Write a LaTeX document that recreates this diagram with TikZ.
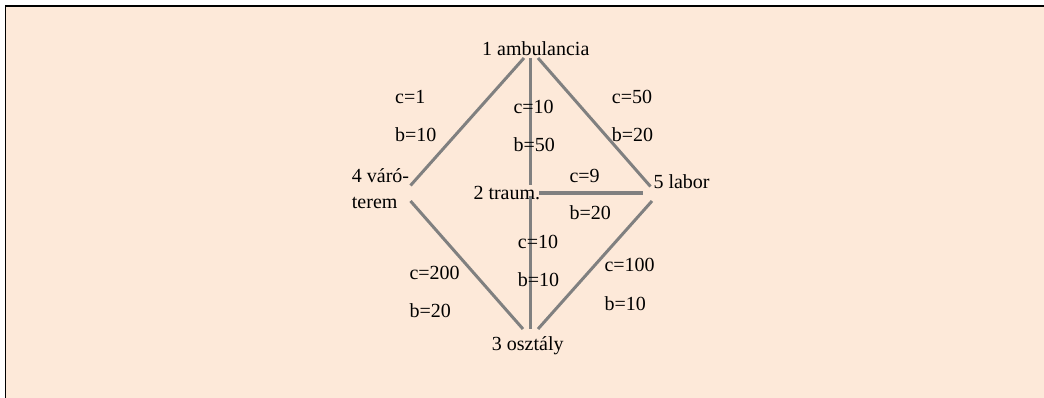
\documentclass[tikz,border=0pt]{standalone}
\usepackage{fontspec}
\setmainfont{Liberation Serif}
\definecolor{peach}{HTML}{FDE9D9}
\definecolor{edgegray}{HTML}{808080}
\begin{document}
\begin{tikzpicture}[x=1pt,y=-1pt,
  lbl/.style={anchor=base west,inner sep=0pt,font=\fontsize{20}{25}\selectfont},
  place/.style={anchor=base west,inner sep=0pt,font=\fontsize{20}{25}\selectfont,align=left},
  edge/.style={draw=edgegray,line width=3pt}]
\useasboundingbox (0,0) rectangle (1044,398);
\fill[white] (0,0) rectangle (1044,398);
\fill[peach] (5,5) rectangle (1044,398);
\draw[black,line width=2pt] (5,6) -- (1044,6);
\draw[black,line width=1.5pt] (5.5,5) -- (5.5,398);
% places
\node[place] (amb) at (482,56) {1 ambulancia};
\node[place] (var) at (351.7,208) {4 váró-\\terem};
\node[place] (tra) at (473.3,200) {2 traum.};
\node[place] (lab) at (653.3,189) {5 labor};
\node[place] (osz) at (491.7,350) {3 osztály};
% connector ends
\coordinate (amb-l) at (524,58);
\coordinate (amb-m) at (530,58);
\coordinate (amb-r) at (538,58);
\coordinate (var-t) at (410.5,185.5);
\coordinate (var-b) at (410.5,201);
\coordinate (tra-t) at (530,185);
\coordinate (tra-b) at (530,196);
\coordinate (tra-r) at (539,193);
\coordinate (lab-l) at (643,193);
\coordinate (lab-t) at (650.5,186.5);
\coordinate (lab-b) at (652,201);
\coordinate (osz-l) at (523,329);
\coordinate (osz-m) at (530,329);
\coordinate (osz-r) at (538,329);
% connectors
\draw[edge] (amb-l) -- (var-t);
\draw[edge] (amb-m) -- (tra-t);
\draw[edge] (amb-r) -- (lab-t);
\draw[edge,line width=3.5pt] (tra-r) -- (lab-l);
\draw[edge] (var-b) -- (osz-l);
\draw[edge] (tra-b) -- (osz-m);
\draw[edge] (lab-b) -- (osz-r);
% labels
\node[lbl] (c14) at (395,104) {c=1};
\node[lbl] (b14) at (395,141.7) {b=10};
\node[lbl] (c12) at (513.3,114) {c=10};
\node[lbl] (b12) at (513.3,151.7) {b=50};
\node[lbl] (c15) at (611.7,104) {c=50};
\node[lbl] (b15) at (611.7,141.7) {b=20};
\node[lbl] (c25) at (569.3,182.7) {c=9};
\node[lbl] (b25) at (569.3,219) {b=20};
\node[lbl] (c23) at (517.7,248) {c=10};
\node[lbl] (b23) at (517.7,286.7) {b=10};
\node[lbl] (c43) at (409.3,279) {c=200};
\node[lbl] (b43) at (409.3,317) {b=20};
\node[lbl] (c53) at (604.3,271.7) {c=100};
\node[lbl] (b53) at (604.3,310) {b=10};
\end{tikzpicture}
\end{document}
